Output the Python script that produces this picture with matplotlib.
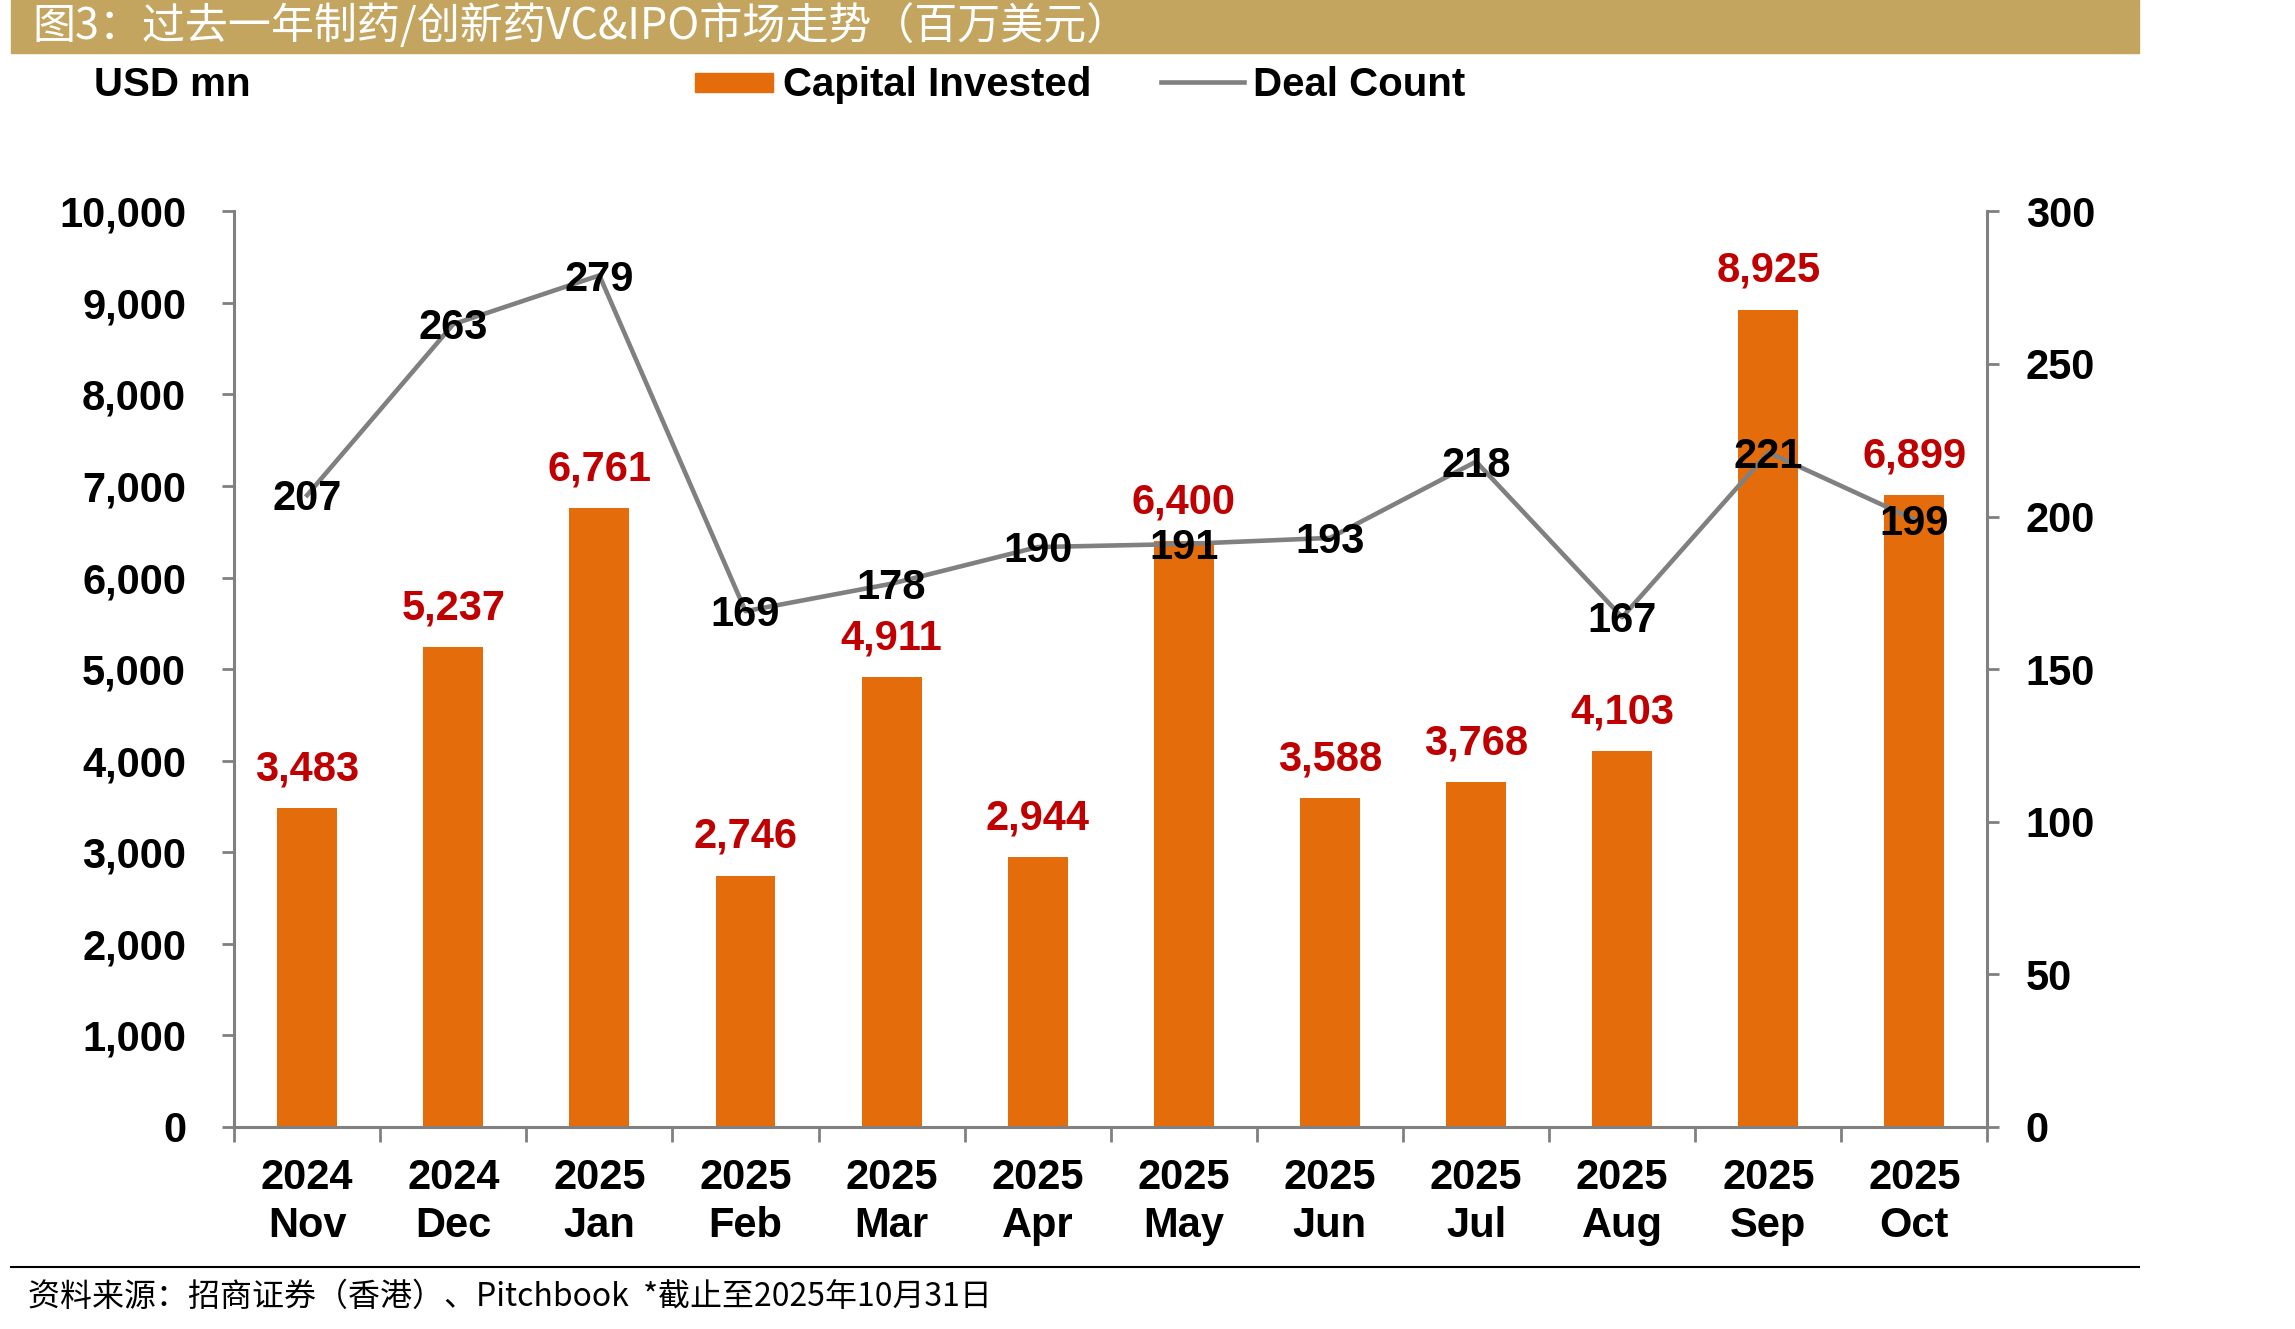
import matplotlib
matplotlib.use("Agg")
from matplotlib import pyplot as plt
from matplotlib.patches import Rectangle
from matplotlib.lines import Line2D
from matplotlib.ticker import FuncFormatter, FixedLocator

months = ["2024\nNov", "2024\nDec", "2025\nJan", "2025\nFeb", "2025\nMar", "2025\nApr",
          "2025\nMay", "2025\nJun", "2025\nJul", "2025\nAug", "2025\nSep", "2025\nOct"]
capital = [3483, 5237, 6761, 2746, 4911, 2944, 6400, 3588, 3768, 4103, 8925, 6899]
deals = [207, 263, 279, 169, 178, 190, 191, 193, 218, 167, 221, 199]

ORANGE = "#E46C0A"
GREY = "#808080"
RED = "#C00000"
TAN = "#C4A55F"

plt.rcParams["font.family"] = ["Liberation Sans", "DejaVu Sans"]
plt.rcParams["font.weight"] = "bold"
cjk = ["Noto Sans CJK SC", "DejaVu Sans"]

fig = plt.figure(figsize=(22.95, 13.29), dpi=100)
ax = fig.add_axes([0.102, 0.152, 0.764, 0.689])
ax2 = ax.twinx()

x = list(range(len(months)))
ax.bar(x, capital, width=0.41, color=ORANGE, zorder=2)
for xi, v in zip(x, capital):
    ax.annotate(f"{v:,}", (xi, v), xytext=(0, 28), textcoords="offset points",
                ha="center", va="center", color=RED, fontsize=30, fontweight="bold")

ax2.plot(x, deals, color=GREY, lw=3.3, zorder=3)
for xi, v in zip(x, deals):
    ax2.annotate(str(v), (xi, v), xytext=(0, -3), textcoords="offset points",
                 ha="center", va="center", color="black",
                 fontsize=30, fontweight="bold", zorder=4)

ax.set_xlim(-0.5, len(months) - 0.5)
ax.set_ylim(0, 10000)
ax2.set_ylim(0, 300)
ax.set_yticks(range(0, 10001, 1000))
ax.yaxis.set_major_formatter(FuncFormatter(lambda v, p: f"{int(v):,}"))
ax2.set_yticks(range(0, 301, 50))

ax.set_xticks(x)
ax.set_xticklabels(months, fontsize=30, fontweight="bold", linespacing=1.28)
ax.xaxis.set_minor_locator(FixedLocator([i - 0.5 for i in range(len(months) + 1)]))
ax.tick_params(axis="x", which="major", length=0, pad=22)
ax.tick_params(axis="x", which="minor", length=11, width=2, color=GREY, direction="out")
ax.tick_params(axis="y", length=8.5, width=2, color=GREY, pad=26, labelsize=30)
ax2.tick_params(axis="y", length=8.5, width=2, color=GREY, pad=19, labelsize=30)

for a in (ax, ax2):
    a.spines["top"].set_visible(False)
    for s in ("left", "right", "bottom"):
        a.spines[s].set_color(GREY)
        a.spines[s].set_linewidth(2.2)
ax.spines["right"].set_visible(False)
ax2.spines["left"].set_visible(False)
ax2.spines["bottom"].set_visible(False)

# title bar
fig.patches.append(Rectangle((0.005, 0.960), 0.927, 0.040, transform=fig.transFigure,
                             color=TAN, zorder=0))
fig.text(0.014, 0.980, "图3：过去一年制药/创新药VC&IPO市场走势（百万美元）", color="white",
         fontsize=31, family=cjk, fontweight="normal", va="center", ha="left")

# unit label and legend
fig.text(0.041, 0.936, "USD mn", fontsize=29, fontweight="bold", va="center", ha="left")
fig.patches.append(Rectangle((0.303, 0.931), 0.034, 0.014, transform=fig.transFigure,
                             color=ORANGE))
fig.text(0.341, 0.936, "Capital Invested", fontsize=29, fontweight="bold", va="center")
fig.lines.append(Line2D([0.506, 0.542], [0.938, 0.938], transform=fig.transFigure,
                        color=GREY, lw=3.3))
fig.text(0.546, 0.936, "Deal Count", fontsize=29, fontweight="bold", va="center")

# footer
fig.lines.append(Line2D([0.005, 0.932], [0.0466, 0.0466], transform=fig.transFigure,
                        color="black", lw=1.5))
fig.text(0.012, 0.024, "资料来源：招商证券（香港）、Pitchbook  *截止至2025年10月31日",
         fontsize=23, family=cjk, fontweight="normal", style="italic", va="center")

fig.savefig("out.png", dpi=100)
